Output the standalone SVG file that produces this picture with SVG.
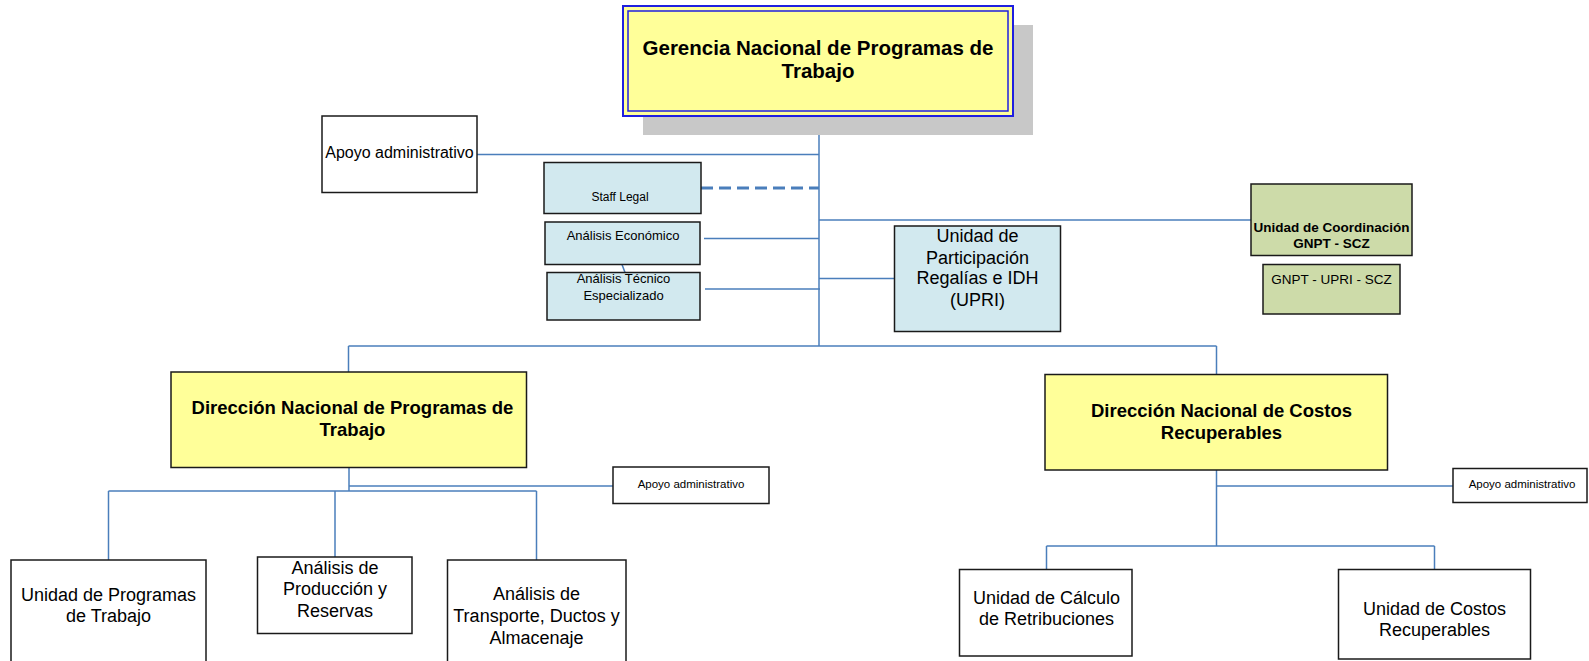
<svg xmlns="http://www.w3.org/2000/svg" width="1589" height="661" viewBox="0 0 1589 661">
<style>
.box{stroke:#1a1a1a;stroke-width:1.5}
.w{fill:#ffffff}
.y{fill:#ffff99}
.b{fill:#d2e9ef}
.g{fill:#cddba9}
.t{font-family:"Liberation Sans",Arial,sans-serif;fill:#000;text-anchor:middle}
.bd{font-weight:bold}
.c{stroke:#4a7ebb;stroke-width:1.5;fill:none}
</style>
<rect width="1589" height="661" fill="#ffffff"/>
<g id="connectors">
<line class="c" x1="819" y1="116" x2="819" y2="346"/>
<line class="c" x1="477" y1="154.5" x2="819" y2="154.5"/>
<line class="c" x1="701" y1="188" x2="819" y2="188" style="stroke-width:3;stroke-dasharray:12 6"/>
<line class="c" x1="704" y1="238.5" x2="819" y2="238.5"/>
<line class="c" x1="705" y1="289" x2="820" y2="289"/>
<line class="c" x1="819" y1="220" x2="1251" y2="220"/>
<line class="c" x1="819" y1="278.5" x2="894" y2="278.5"/>
<line class="c" x1="622" y1="264.5" x2="625" y2="272.5"/>
<line class="c" x1="348.5" y1="346" x2="1216.5" y2="346"/>
<line class="c" x1="348.5" y1="346" x2="348.5" y2="372"/>
<line class="c" x1="1216.5" y1="346" x2="1216.5" y2="374"/>
<line class="c" x1="349" y1="467" x2="349" y2="491"/>
<line class="c" x1="349" y1="486" x2="613" y2="486"/>
<line class="c" x1="108.5" y1="491" x2="536.5" y2="491"/>
<line class="c" x1="108.5" y1="491" x2="108.5" y2="560"/>
<line class="c" x1="335" y1="491" x2="335" y2="557"/>
<line class="c" x1="536.5" y1="491" x2="536.5" y2="560"/>
<line class="c" x1="1216.5" y1="470" x2="1216.5" y2="546"/>
<line class="c" x1="1216.5" y1="486" x2="1453" y2="486"/>
<line class="c" x1="1046.5" y1="546" x2="1434.5" y2="546"/>
<line class="c" x1="1046.5" y1="546" x2="1046.5" y2="569"/>
<line class="c" x1="1434.5" y1="546" x2="1434.5" y2="569"/>
</g>
<g id="gerencia">
<rect x="643" y="25" width="390" height="110" fill="#c8c8c8"/>
<rect x="623" y="6" width="390" height="110" fill="#ffff99" stroke="#1f1fe0" stroke-width="2"/>
<rect x="628" y="11" width="380" height="100" fill="none" stroke="#1f1fe0" stroke-width="1.5"/>
<text class="t bd" x="818" y="55" font-size="20.5">Gerencia Nacional de Programas de</text>
<text class="t bd" x="818" y="78" font-size="20.5">Trabajo</text>
</g>
<g id="apoyo1">
<rect class="box w" x="322" y="116" width="155" height="76.5"/>
<text class="t" x="399.5" y="158" font-size="16">Apoyo administrativo</text>
</g>
<g id="staff-legal">
<rect class="box b" x="544" y="162.5" width="157" height="51"/>
<text class="t" x="620" y="201" font-size="12">Staff Legal</text>
</g>
<g id="analisis-economico">
<rect class="box b" x="545" y="222" width="155" height="42.5"/>
<text class="t" x="623" y="239.5" font-size="13">Análisis Económico</text>
</g>
<g id="analisis-tecnico">
<rect class="box b" x="547" y="272.5" width="153" height="47.5"/>
<text class="t" x="623.5" y="283" font-size="13">Análisis Técnico</text>
<text class="t" x="623.5" y="300" font-size="13">Especializado</text>
</g>
<g id="upri">
<rect class="box b" x="894.5" y="226" width="166" height="105.5"/>
<text class="t" x="977.5" y="242" font-size="18">Unidad de</text>
<text class="t" x="977.5" y="263.5" font-size="18">Participación</text>
<text class="t" x="977.5" y="284" font-size="18">Regalías e IDH</text>
<text class="t" x="977.5" y="305.5" font-size="18">(UPRI)</text>
</g>
<g id="unidad-coordinacion">
<rect class="box g" x="1251" y="184" width="161" height="71.5"/>
<text class="t bd" x="1331.5" y="231.5" font-size="13.5">Unidad de Coordinación</text>
<text class="t bd" x="1331.5" y="247.5" font-size="13.5">GNPT - SCZ</text>
</g>
<g id="gnpt-upri-scz">
<rect class="box g" x="1263" y="264.5" width="137" height="49.5"/>
<text class="t" x="1331.5" y="283.5" font-size="13.5">GNPT - UPRI - SCZ</text>
</g>
<g id="dnpt">
<rect class="box y" x="171" y="372" width="355.5" height="95.5"/>
<text class="t bd" x="352.5" y="413.5" font-size="18.5">Dirección Nacional de Programas de</text>
<text class="t bd" x="352.5" y="435.5" font-size="18.5">Trabajo</text>
</g>
<g id="dncr">
<rect class="box y" x="1045" y="374.5" width="342.5" height="95.5"/>
<text class="t bd" x="1221.5" y="416.5" font-size="18.5">Dirección Nacional de Costos</text>
<text class="t bd" x="1221.5" y="439" font-size="18.5">Recuperables</text>
</g>
<g id="apoyo2">
<rect class="box w" x="613" y="467" width="156" height="36.5"/>
<text class="t" x="691" y="488" font-size="11.5">Apoyo administrativo</text>
</g>
<g id="apoyo3">
<rect class="box w" x="1453" y="468.5" width="134" height="34"/>
<text class="t" x="1522" y="487.5" font-size="11.5">Apoyo administrativo</text>
</g>
<g id="unidad-programas">
<rect class="box w" x="11" y="560" width="195" height="110"/>
<text class="t" x="108.5" y="600.5" font-size="18">Unidad de Programas</text>
<text class="t" x="108.5" y="621.5" font-size="18">de Trabajo</text>
</g>
<g id="analisis-produccion">
<rect class="box w" x="257.5" y="557" width="154.5" height="76.5"/>
<text class="t" x="335" y="573.5" font-size="18">Análisis de</text>
<text class="t" x="335" y="595" font-size="18">Producción y</text>
<text class="t" x="335" y="616.5" font-size="18">Reservas</text>
</g>
<g id="analisis-transporte">
<rect class="box w" x="447.5" y="560" width="178.5" height="110"/>
<text class="t" x="536.5" y="600" font-size="18">Análisis de</text>
<text class="t" x="536.5" y="622" font-size="18">Transporte, Ductos y</text>
<text class="t" x="536.5" y="643.5" font-size="18">Almacenaje</text>
</g>
<g id="unidad-calculo">
<rect class="box w" x="959.5" y="569.5" width="172.5" height="86.5"/>
<text class="t" x="1046.5" y="603.5" font-size="18">Unidad de Cálculo</text>
<text class="t" x="1046.5" y="624.5" font-size="18">de Retribuciones</text>
</g>
<g id="unidad-costos">
<rect class="box w" x="1338.5" y="569.5" width="192" height="89.5"/>
<text class="t" x="1434.5" y="615" font-size="18">Unidad de Costos</text>
<text class="t" x="1434.5" y="636" font-size="18">Recuperables</text>
</g>
</svg>
